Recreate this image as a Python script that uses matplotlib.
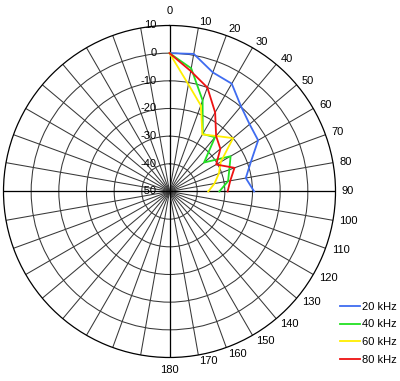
import numpy as np
import matplotlib
matplotlib.use("Agg")
import matplotlib.pyplot as plt

# ── data (angle in degrees, level in dB) ──────────────────────────────
angles = [0, 10, 20, 30, 40, 50, 60, 70, 80, 90]
blue_20k = [0, 0.5, -4.2, -5.0, -9.8, -12.2, -13.0, -18.7, -22.0, -19.4]
green_40k = [0, -4.8, -15.0, -26.0, -24.4, -33.7, -24.5, -27.0, -28.5, -32.0]
yellow_60k = [0, -10.7, -16.9, -26.2, -23.8, -20.0, -28.6, -31.0, -33.5, -36.0]
red_80k = [0, -5.8, -10.0, -17.0, -23.8, -26.0, -30.5, -25.0, -27.7, -29.0]

series = [
    ("20 kHz", blue_20k, "#3f6cf0"),
    ("40 kHz", green_40k, "#22e022"),
    ("60 kHz", yellow_60k, "#ffee00"),
    ("80 kHz", red_80k, "#ee1111"),
]

ring_values = [10, 0, -10, -20, -30, -40, -50]
theta_ticks = list(range(0, 360, 10))
theta_labels = [str(a) for a in range(0, 190, 10)]

plt.rcParams["font.family"] = ["Liberation Sans", "DejaVu Sans"]

fig = plt.figure(figsize=(4.0, 3.81), dpi=100)
ax = fig.add_axes([0.00875, 0.0617, 0.83, 0.8714], projection="polar")

ax.set_theta_zero_location("N")
ax.set_theta_direction(-1)
ax.set_rlim(-50, 10)
ax.set_rticks([-40, -30, -20, -10, 0])
ax.set_yticklabels([])
ax.set_thetagrids(theta_ticks, labels=[""] * len(theta_ticks))
ax.grid(True, color="#383838", lw=0.75)
ax.spines["polar"].set_color("black")
ax.spines["polar"].set_linewidth(0.9)

# main cross lines
for a in (0, 90, 180, 270):
    ax.plot([np.radians(a)] * 2, [-50, 10], color="black", lw=0.9, zorder=2)

# angle labels, right half only (left-anchored like a spreadsheet radar chart)
for lab in theta_labels:
    a = int(lab)
    if a == 0:
        off, ha = 14.5, "center"
    elif a == 180:
        off, ha = 12.5, "center"
    else:
        off, ha = 6.5, "left"
    dx = off * np.sin(np.radians(a))
    dy = off * np.cos(np.radians(a))
    ax.annotate(lab, xy=(np.radians(a), 10), xytext=(dx, dy),
                textcoords="offset pixels", ha=ha, va="center",
                fontsize=8, annotation_clip=False)

# radial labels along the 0 degree spoke
for v in ring_values:
    ax.annotate(str(v), xy=(0, v), xytext=(-13, 0), textcoords="offset pixels",
                ha="right", va="center", fontsize=8, annotation_clip=False)

for name, vals, color in series:
    ax.plot(np.radians(angles), vals, color=color, lw=1.3, label=name, zorder=3)

fig.legend(loc="upper left", bbox_to_anchor=(0.85, 0.2075), frameon=False,
           fontsize=8, handlelength=1.8, handletextpad=0.2, labelspacing=0.68,
           borderpad=0, borderaxespad=0)

fig.savefig("out.png", dpi=100)
